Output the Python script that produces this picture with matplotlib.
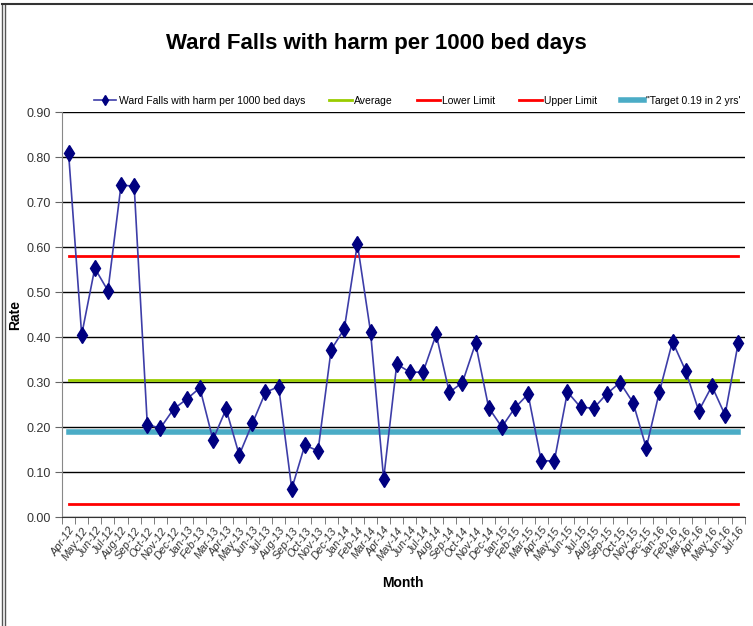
import matplotlib.pyplot as plt
from matplotlib.lines import Line2D

months = ['Apr-12', 'May-12', 'Jun-12', 'Jul-12', 'Aug-12', 'Sep-12', 'Oct-12', 'Nov-12', 'Dec-12',
          'Jan-13', 'Feb-13', 'Mar-13', 'Apr-13', 'May-13', 'Jun-13', 'Jul-13', 'Aug-13', 'Sep-13',
          'Oct-13', 'Nov-13', 'Dec-13',
          'Jan-14', 'Feb-14', 'Mar-14', 'Apr-14', 'May-14', 'Jun-14', 'Jul-14', 'Aug-14', 'Sep-14',
          'Oct-14', 'Nov-14', 'Dec-14',
          'Jan-15', 'Feb-15', 'Mar-15', 'Apr-15', 'May-15', 'Jun-15', 'Jul-15', 'Aug-15', 'Sep-15',
          'Oct-15', 'Nov-15', 'Dec-15',
          'Jan-16', 'Feb-16', 'Mar-16', 'Apr-16', 'May-16', 'Jun-16', 'Jul-16']

rate = [0.81, 0.405, 0.553, 0.503, 0.738, 0.735, 0.205, 0.198, 0.240,
        0.262, 0.287, 0.172, 0.240, 0.138, 0.208, 0.277, 0.290, 0.063, 0.160, 0.147, 0.372,
        0.418, 0.607, 0.412, 0.085, 0.340, 0.322, 0.322, 0.406, 0.277, 0.299, 0.386, 0.243,
        0.200, 0.243, 0.273, 0.125, 0.125, 0.278, 0.244, 0.242, 0.274, 0.299, 0.254, 0.154,
        0.278, 0.390, 0.325, 0.236, 0.291, 0.227, 0.386]

average = 0.305
lower_limit = 0.03
upper_limit = 0.58
target = 0.19

plt.rcParams['font.family'] = ['Liberation Sans', 'DejaVu Sans']

fig = plt.figure(figsize=(7.53, 6.26), dpi=100)
ax = fig.add_axes([0.0823, 0.174, 0.9067, 0.647])

x = list(range(len(months)))
n = len(months)

ax.plot(x, [average] * n, color='#99CC00', lw=2, label='Average', zorder=3)
ax.plot(x, [lower_limit] * n, color='#FF0000', lw=2, label='Lower Limit', zorder=3)
ax.plot(x, [upper_limit] * n, color='#FF0000', lw=2, label='Upper Limit', zorder=3)
ax.plot(x, [target] * n, color='#4BACC6', lw=4, label='"Target 0.19 in 2 yrs\'', zorder=3)
ax.plot(x, rate, color='#3D3DA8', lw=1.2, marker='d', markersize=8,
        markerfacecolor='#000080', markeredgecolor='#000080',
        label='Ward Falls with harm per 1000 bed days', zorder=4)

ax.set_xlim(-0.5, n - 0.5)
ax.set_ylim(0, 0.9)
ax.set_yticks([i / 10 for i in range(10)])
ax.set_yticklabels(['%.2f' % (i / 10) for i in range(10)], fontsize=9, color='#333333')
ax.yaxis.grid(True, color='black', lw=1)
ax.set_axisbelow(True)

ax.set_xticks(x)
ax.set_xticklabels(months, rotation=55, ha='right', rotation_mode='anchor',
                   fontsize=8, style='italic', color='#333333')
ax.tick_params(axis='x', which='major', length=0, pad=6)
ax.set_xticks([i - 0.5 for i in range(n + 1)], minor=True)
ax.tick_params(axis='x', which='minor', length=5, color='#666666')
ax.tick_params(axis='y', length=5, color='#666666', pad=3)

for s in ['top', 'right']:
    ax.spines[s].set_visible(False)
ax.spines['left'].set_color('#888888')
ax.spines['bottom'].set_color('#333333')

ax.set_xlabel('Month', fontsize=10, fontweight='bold', labelpad=10)
ax.set_ylabel('Rate', fontsize=10, fontweight='bold')
ax.yaxis.set_label_coords(-0.058, 0.5)

handles, labels = ax.get_legend_handles_labels()
order = [4, 0, 1, 2, 3]
ax.legend([handles[i] for i in order], [labels[i] for i in order], loc='lower center',
          bbox_to_anchor=(0.52, 1.0), ncol=5, frameon=False, fontsize=7.5, markerscale=0.7,
          handlelength=2.2, columnspacing=2.3, handletextpad=0.2, borderaxespad=0.2)

fig.suptitle('Ward Falls with harm per 1000 bed days', y=0.948, fontsize=16, fontweight='bold')

fig.add_artist(Line2D([0.003, 0.003], [0, 0.993], transform=fig.transFigure, color='#555555', lw=1))
fig.add_artist(Line2D([0.007, 0.007], [0, 0.993], transform=fig.transFigure, color='#555555', lw=1))
fig.add_artist(Line2D([0.003, 1], [0.993, 0.993], transform=fig.transFigure, color='#333333', lw=1.5))

fig.savefig('out.png', dpi=100)
